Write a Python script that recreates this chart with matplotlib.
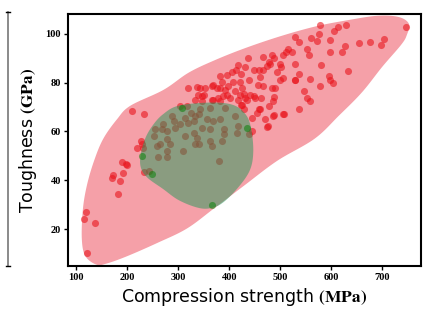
import numpy as np
import matplotlib
matplotlib.use('Agg')
import matplotlib.pyplot as plt
from matplotlib.lines import Line2D

plt.rcParams['mathtext.fontset'] = 'stix'

# red data set (compression strength MPa, toughness GPa)
red_x = [578, 614, 628, 606, 746, 528, 560, 575, 572, 597, 537, 655, 675, 704, 698, 626,
         621, 597, 553, 556, 515, 512, 506, 523, 484, 467, 437, 487, 499, 502, 477, 474,
         480, 580, 528, 431, 448, 459, 466, 422, 493, 506, 500, 537, 559, 528, 633, 595,
         604, 598, 578, 546, 559, 553, 438, 461, 457, 467, 484, 490, 428, 441, 449, 462,
         487, 486, 477, 461, 454, 506, 536, 487, 469, 474, 444, 422, 435,
         418, 414, 405, 395, 382, 385, 369, 375, 382, 392, 398, 408, 421, 424, 411, 421,
         395, 388, 352, 343, 320, 339, 346, 333, 346, 369, 378, 401, 418,
         337, 366, 317, 209, 232, 351, 304, 366, 382, 431, 451, 458, 428, 425,
         226, 219, 229, 438, 445,
         190, 197, 199, 173, 170, 192, 185, 182, 119, 116, 136, 121,
         475, 485, 508, 528,
         288, 291, 271, 268, 255, 278, 294, 304, 314, 324, 333, 343, 340, 330, 320, 346,
         363, 356, 369, 382, 392, 412, 418, 389, 363, 330, 314, 337, 333, 340, 363, 366,
         386, 389, 415, 278, 265, 258, 284, 310, 278, 261, 278, 252, 379, 232, 242, 231]
red_y = [103.4, 102.8, 103.6, 101.1, 102.8, 98.7, 98.4, 99.8, 97.1, 97.6, 96.4, 96.1, 96.6, 98.0, 95.2, 94.8,
         92.4, 92.6, 93.7, 91.2, 93.7, 92.4, 91.2, 92.6, 91.4, 90.6, 90.1, 89.9, 87.6, 86.3, 88.3, 86.9,
         87.6, 87.2, 87.6, 86.3, 85.2, 85.2, 85.2, 83.3, 84.3, 81.8, 81.1, 83.3, 81.4, 80.9, 84.7, 82.8,
         79.8, 80.9, 78.4, 76.7, 72.5, 73.7, 80.9, 82.2, 79.1, 78.4, 77.8, 77.9, 75.5, 74.8, 74.4, 73.8,
         74.1, 72.3, 70.3, 69.0, 67.6, 67.3, 69.0, 66.7, 64.9, 62.0, 65.7, 70.7, 72.7,
         87.2, 85.2, 84.5, 83.2, 82.5, 80.4, 79.1, 77.8, 77.8, 77.1, 78.4, 80.4, 80.4, 77.8, 76.4, 75.1,
         75.1, 74.4, 77.8, 77.8, 77.8, 75.1, 74.4, 73.0, 72.3, 73.0, 73.7, 73.7, 73.0,
         78.2, 78.7, 70.3, 68.3, 67.2, 75.0, 70.3, 73.0, 72.6, 73.7, 73.7, 69.0, 69.0, 71.0,
         56.1, 53.4, 54.8, 58.8, 60.2,
         47.6, 46.7, 46.2, 42.2, 40.9, 42.9, 39.6, 34.4, 27.1, 24.3, 22.7, 10.1,
         62.2, 66.5, 67.0, 81.1,
         66.2, 64.2, 62.9, 60.9, 60.9, 60.2, 61.5, 62.9, 65.6, 67.6, 66.2, 69.0, 67.0, 64.2, 63.6, 61.5,
         69.7, 64.9, 64.2, 64.9, 69.7, 66.2, 62.2, 60.9, 60.9, 59.5, 58.1, 57.5, 54.8, 54.8, 56.1, 54.1,
         56.1, 58.8, 59.5, 56.8, 54.8, 54.1, 54.8, 52.0, 52.0, 49.4, 49.4, 58.1, 48.0, 43.3, 43.9, 53.4]

# green data set
green_x = [307, 229, 248, 435, 367]
green_y = [69.5, 50.0, 42.5, 61.5, 30.0]

# outlines of the two shaded regions
red_edge_x = [140, 118, 111, 113, 121, 135, 153, 180, 206, 271, 320, 370, 430, 501, 570, 632,
              690, 732, 752, 748, 737, 700, 660, 615, 567, 494, 430, 370, 317, 260, 200, 160]
red_edge_y = [5.5, 9, 16, 28, 38, 48, 57, 65, 70.5, 77, 84, 89, 94, 99, 103, 105.5,
              107.3, 106.8, 104, 99.5, 95.5, 86.5, 76, 66.5, 57, 48, 38, 28.5, 20.3, 14.5, 9, 6]
green_edge_x = [300, 360, 405, 430, 442, 447, 440, 415, 385, 360, 335, 300, 270, 240, 227, 226, 235, 250, 270]
green_edge_y = [70.5, 71.8, 71, 67.5, 62, 52, 44, 36.5, 30.5, 28.5, 29, 32, 36.5, 41, 45, 50, 57, 62.5, 67]


def smooth_closed(xs, ys, n=20):
    # closed Catmull-Rom curve through the outline points
    p = np.column_stack([xs, ys]).astype(float)
    m = len(p)
    out = []
    t = np.linspace(0, 1, n, endpoint=False)[:, None]
    for i in range(m):
        p0, p1, p2, p3 = p[i - 1], p[i], p[(i + 1) % m], p[(i + 2) % m]
        seg = 0.5 * ((2 * p1) + (-p0 + p2) * t + (2 * p0 - 5 * p1 + 4 * p2 - p3) * t ** 2
                     + (-p0 + 3 * p1 - 3 * p2 + p3) * t ** 3)
        out.append(seg)
    out = np.vstack(out)
    return out[:, 0], out[:, 1]


fig = plt.figure(figsize=(4.28, 3.2), dpi=100)
ax = fig.add_axes([0.159, 0.169, 0.825, 0.787])

rx, ry = smooth_closed(red_edge_x, red_edge_y)
ax.fill(rx, ry, color='#f5a0a8', lw=0, zorder=1)
ax.scatter(red_x, red_y, s=26, color='#e8141c', alpha=0.6, lw=0, zorder=2)

gx, gy = smooth_closed(green_edge_x, green_edge_y)
ax.fill(gx, gy, color='#21995a', alpha=0.5, lw=0, zorder=3)
ax.scatter(green_x, green_y, s=26, color='green', alpha=0.5, lw=0, zorder=4)

ax.set_xlim(84, 776)
ax.set_ylim(5, 108)
ax.set_xticks([100, 200, 300, 400, 500, 600, 700])
ax.set_yticks([20, 40, 60, 80, 100])
for lab in ax.get_xticklabels() + ax.get_yticklabels():
    lab.set_fontfamily('Liberation Serif')
    lab.set_fontweight('bold')
    lab.set_fontsize(7.5)
ax.tick_params(length=3, width=1, pad=2)
for sp in ax.spines.values():
    sp.set_linewidth(1.5)

ax.set_xlabel(r'Compression strength $\mathbf{(MPa)}$', fontsize=12.5, labelpad=3)
ax.set_ylabel(r'Toughness $\mathbf{(GPa)}$', fontsize=12.5, labelpad=5)

# thin frame line at the left edge of the figure
fig.add_artist(Line2D([8 / 428, 8 / 428], [1 - 12 / 320, 1 - 266 / 320], color='#777777', lw=1.2))
fig.add_artist(Line2D([6 / 428, 10 / 428], [1 - 12 / 320, 1 - 12 / 320], color='black', lw=1))
fig.add_artist(Line2D([6 / 428, 10 / 428], [1 - 266 / 320, 1 - 266 / 320], color='black', lw=1))

fig.savefig('out.png', dpi=100)
